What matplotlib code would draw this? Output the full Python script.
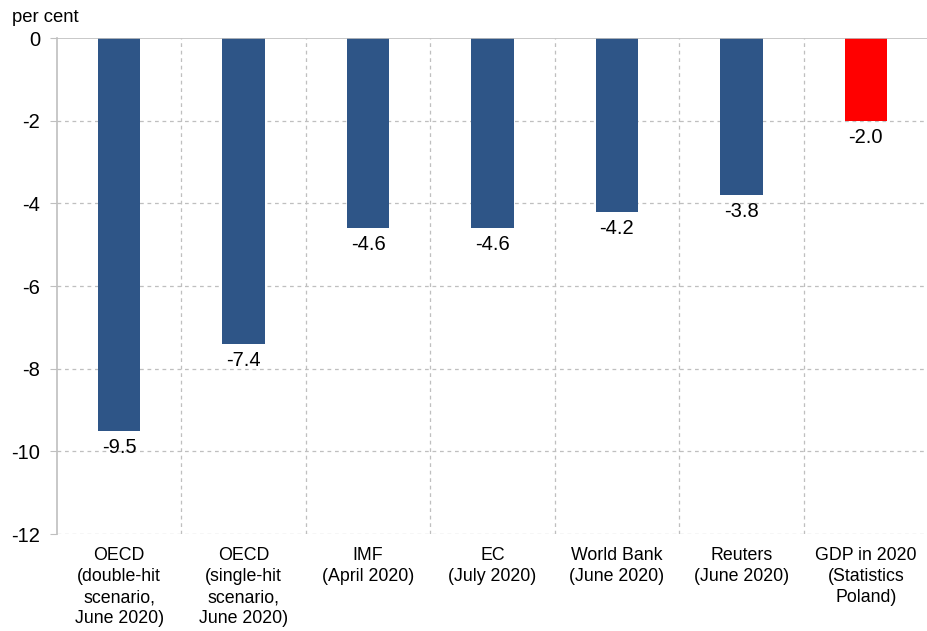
import matplotlib
matplotlib.use("Agg")
import matplotlib.pyplot as plt

plt.rcParams['font.family'] = ['Liberation Sans', 'DejaVu Sans']

categories = [
    "OECD\n(double-hit\nscenario,\nJune 2020)",
    "OECD\n(single-hit\nscenario,\nJune 2020)",
    "IMF\n(April 2020)",
    "EC\n(July 2020)",
    "World Bank\n(June 2020)",
    "Reuters\n(June 2020)",
    "GDP in 2020\n(Statistics\nPoland)",
]
values = [-9.5, -7.4, -4.6, -4.6, -4.2, -3.8, -2.0]
colors = ["#2E5587"] * 6 + ["#FF0000"]
yticks = [0, -2, -4, -6, -8, -10, -12]

fig = plt.figure(figsize=(9.28, 6.31), dpi=100)
ax = fig.add_axes([57 / 928, 1 - 534 / 631, (928 - 57) / 928, (534 - 38) / 631])

x = list(range(len(categories)))
ax.bar(x, values, width=0.34, color=colors, zorder=3)

ax.set_xlim(-0.5, len(categories) - 0.5)
ax.set_ylim(-12, 0)
ax.set_yticks(yticks)
ax.set_yticklabels([str(v) for v in yticks], fontsize=14.5)
ax.tick_params(axis='y', length=5, color='#BFBFBF', pad=7)

# Dashed grid: horizontal at each tick, vertical at category boundaries
for v in yticks[1:]:
    ax.axhline(v, color='#BFBFBF', lw=0.9, ls=(0, (3, 3)), zorder=1)
for b in range(1, len(categories)):
    ax.axvline(b - 0.5, color='#BFBFBF', lw=0.9, ls=(0, (3, 3)), zorder=1)
ax.axhline(0, color='#BFBFBF', lw=1.2, zorder=4)

for s in ['top', 'right', 'bottom']:
    ax.spines[s].set_visible(False)
ax.spines['left'].set_color('#BFBFBF')
ax.spines['left'].set_linewidth(1.2)

ax.set_xticks(x)
ax.set_xticklabels(categories, fontsize=12.8, linespacing=1.33)
ax.tick_params(axis='x', length=0, pad=9)

for xi, v in zip(x, values):
    ax.annotate(f"{v:.1f}", (xi, v), xytext=(0, -5), textcoords='offset points',
                ha='center', va='top', fontsize=14.5, zorder=5)

fig.text(12 / 928, 1 - 18 / 631, "per cent", fontsize=13.3, ha='left', va='center')

fig.savefig("out.png", dpi=100)
